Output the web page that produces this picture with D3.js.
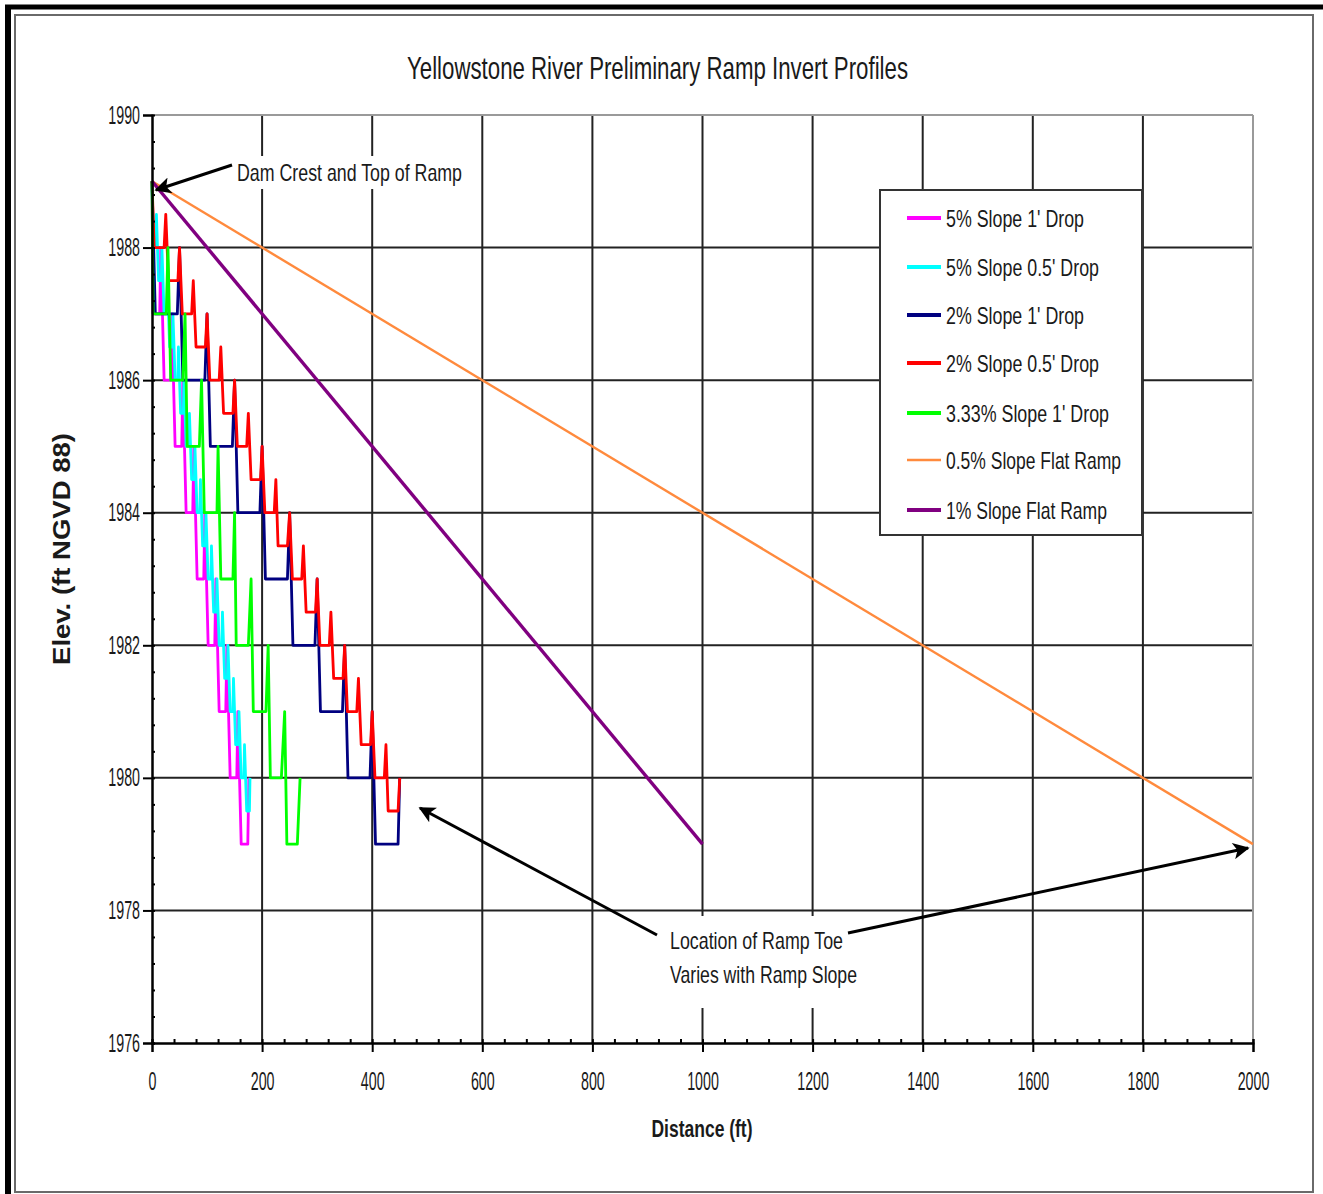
<!DOCTYPE html>
<html>
<head>
<meta charset="utf-8">
<script src="https://cdn.jsdelivr.net/npm/d3@7"></script>
<style>
  body { margin: 0; background: #fff; }
  text { font-family: "Liberation Sans", Arial, sans-serif; fill: #1a1a1a; }
</style>
</head>
<body>
<svg id="chart"></svg>
<script>
// profile points: [distance ft, elevation ft]
const slope5Drop1 = [
  [0, 1989], [2, 1987], [14, 1987], [16, 1988], [22, 1986], [34, 1986], [36, 1987],
  [42, 1985], [54, 1985], [56, 1986], [62, 1984], [74, 1984], [76, 1985],
  [82, 1983], [94, 1983], [96, 1984], [102, 1982], [114, 1982], [116, 1983],
  [122, 1981], [134, 1981], [136, 1982], [142, 1980], [154, 1980], [156, 1981],
  [162, 1979], [174, 1979], [176, 1980],
];
const slope5Drop05 = [
  [0, 1989], [2, 1988], [7, 1988], [8, 1988.5], [12, 1987.5], [17, 1987.5], [18, 1988],
  [22, 1987], [27, 1987], [28, 1987.5], [32, 1986.5], [37, 1986.5], [38, 1987],
  [42, 1986], [47, 1986], [48, 1986.5], [52, 1985.5], [57, 1985.5], [58, 1986],
  [62, 1985], [67, 1985], [68, 1985.5], [72, 1984.5], [77, 1984.5], [78, 1985],
  [82, 1984], [87, 1984], [88, 1984.5], [92, 1983.5], [97, 1983.5], [98, 1984],
  [102, 1983], [107, 1983], [108, 1983.5], [112, 1982.5], [117, 1982.5], [118, 1983],
  [122, 1982], [127, 1982], [128, 1982.5], [132, 1981.5], [137, 1981.5], [138, 1982],
  [142, 1981], [147, 1981], [148, 1981.5], [152, 1980.5], [157, 1980.5], [158, 1981],
  [162, 1980], [167, 1980], [168, 1980.5], [172, 1979.5], [177, 1979.5], [178, 1980],
];
const slope2Drop1 = [
  [0, 1989], [6, 1987], [46, 1987], [50, 1988], [56, 1986], [96, 1986], [100, 1987],
  [106, 1985], [146, 1985], [150, 1986], [156, 1984], [196, 1984], [200, 1985],
  [206, 1983], [246, 1983], [250, 1984], [256, 1982], [296, 1982], [300, 1983],
  [306, 1981], [346, 1981], [350, 1982], [356, 1980], [396, 1980], [400, 1981],
  [406, 1979], [447, 1979], [450, 1980],
];
const slope2Drop05 = [
  [0, 1989], [4, 1988], [22, 1988], [25, 1988.5], [30, 1987.5], [47, 1987.5], [50, 1988],
  [55, 1987], [72, 1987], [75, 1987.5], [80, 1986.5], [97, 1986.5], [100, 1987],
  [105, 1986], [122, 1986], [125, 1986.5], [130, 1985.5], [147, 1985.5], [150, 1986],
  [155, 1985], [172, 1985], [175, 1985.5], [180, 1984.5], [197, 1984.5], [200, 1985],
  [205, 1984], [222, 1984], [225, 1984.5], [229, 1983.5], [246, 1983.5], [250, 1984],
  [255, 1983], [272, 1983], [275, 1983.5], [280, 1982.5], [297, 1982.5], [300, 1983],
  [305, 1982], [322, 1982], [325, 1982.5], [330, 1981.5], [347, 1981.5], [350, 1982],
  [355, 1981], [372, 1981], [375, 1981.5], [380, 1980.5], [397, 1980.5], [400, 1981],
  [405, 1980], [422, 1980], [425, 1980.5], [429, 1979.5], [447, 1979.5], [450, 1980],
];
const slope333Drop1 = [
  [0, 1989], [2, 1987], [26, 1987], [29, 1988], [34, 1986], [56, 1986], [60, 1987],
  [64, 1985], [86, 1985], [90, 1986], [95, 1984], [118, 1984], [120, 1985],
  [125, 1983], [147, 1983], [150, 1984], [153, 1982], [175, 1982], [180, 1983],
  [184, 1981], [207, 1981], [211, 1982], [215, 1980], [235, 1980], [241, 1981],
  [245, 1979], [264, 1979], [269, 1980],
];
const slope05Flat = [[0, 1989], [2000, 1979]];
const slope1Flat = [[0, 1989], [1000, 1979]];

const seriesNames = [
  "5% Slope 1' Drop", "5% Slope 0.5' Drop", "2% Slope 1' Drop", "2% Slope 0.5' Drop",
  "3.33% Slope 1' Drop", "0.5% Slope Flat Ramp", "1% Slope Flat Ramp",
];
const seriesData = [slope5Drop1, slope5Drop05, slope2Drop1, slope2Drop05, slope333Drop1, slope05Flat, slope1Flat];
const seriesColors = ['#ff00ff', '#00ffff', '#000080', '#ff0000', '#00ff00', '#ff8a3d', '#800080'];
const seriesWidths = [2.8, 2.8, 2.8, 2.8, 2.8, 2.4, 3.4];

const xTicks = [0, 200, 400, 600, 800, 1000, 1200, 1400, 1600, 1800, 2000];
const yTicks = [1976, 1978, 1980, 1982, 1984, 1986, 1988, 1990];

const W = 1323, H = 1194;
const svg = d3.select('#chart').attr('width', W).attr('height', H);

const x = d3.scaleLinear().domain([0, 2000]).range([152, 1253]);
const y = d3.scaleLinear().domain([1976, 1990]).range([1043, 115]);

// squeeze text horizontally like the condensed original
function squash(sel, k) {
  sel.each(function () {
    const w = this.getComputedTextLength();
    d3.select(this).attr('textLength', w * k).attr('lengthAdjust', 'spacingAndGlyphs');
  });
}

// frame
svg.append('rect').attr('x', 15).attr('y', 15).attr('width', 1298).attr('height', 1177)
  .attr('fill', 'none').attr('stroke', '#6a6a6a').attr('stroke-width', 2);
svg.append('line').attr('x1', 8).attr('x2', 8).attr('y1', 5).attr('y2', H).attr('stroke', '#000').attr('stroke-width', 6);
svg.append('line').attr('x1', 5).attr('x2', W).attr('y1', 7).attr('y2', 7).attr('stroke', '#000').attr('stroke-width', 5);

// title
svg.append('text').attr('x', 407).attr('y', 79).attr('font-size', 32)
  .attr('textLength', 501).attr('lengthAdjust', 'spacingAndGlyphs')
  .text('Yellowstone River Preliminary Ramp Invert Profiles');

// grid
const grid = svg.append('g');
grid.selectAll('line.h').data(yTicks.filter((t) => t > 1976 && t < 1990)).join('line')
  .attr('x1', x(0)).attr('x2', x(2000)).attr('y1', (d) => y(d)).attr('y2', (d) => y(d))
  .attr('stroke', '#222').attr('stroke-width', 2);
grid.selectAll('line.v').data(xTicks.filter((t) => t > 0 && t < 2000)).join('line')
  .attr('x1', (d) => x(d)).attr('x2', (d) => x(d)).attr('y1', y(1990)).attr('y2', y(1976))
  .attr('stroke', '#222').attr('stroke-width', 2);
grid.append('line').attr('x1', x(0)).attr('x2', x(2000)).attr('y1', y(1990)).attr('y2', y(1990))
  .attr('stroke', '#9a9a9a').attr('stroke-width', 2);
grid.append('line').attr('x1', x(2000)).attr('x2', x(2000)).attr('y1', y(1990)).attr('y2', y(1976))
  .attr('stroke', '#9a9a9a').attr('stroke-width', 2);

// series
const line = d3.line().x((d) => x(d[0])).y((d) => y(d[1]));
svg.append('g').selectAll('path').data(seriesData).join('path')
  .attr('d', line).attr('fill', 'none')
  .attr('stroke', (d, i) => seriesColors[i])
  .attr('stroke-width', (d, i) => seriesWidths[i])
  .attr('stroke-linejoin', 'round');

// axes
const yAxis = svg.append('g').attr('transform', `translate(${x(0)},0)`)
  .call(d3.axisLeft(y).tickValues(yTicks).tickSize(9).tickPadding(4).tickFormat(d3.format('d')));
svg.append('g').attr('transform', `translate(${x(0)},0)`)
  .call(d3.axisRight(y).tickValues(d3.range(1976, 1990, 0.4)).tickSize(3).tickFormat(''));
const xAxis = svg.append('g').attr('transform', `translate(0,${y(1976)})`)
  .call(d3.axisBottom(x).tickValues(xTicks).tickSize(9).tickPadding(20).tickFormat(d3.format('d')));
svg.append('g').attr('transform', `translate(0,${y(1976)})`)
  .call(d3.axisTop(x).tickValues(d3.range(0, 2001, 40)).tickSize(4).tickFormat(''));
svg.selectAll('.domain').attr('stroke', '#000').attr('stroke-width', 2);
svg.selectAll('.tick line').attr('stroke', '#000').attr('stroke-width', 2);
svg.selectAll('.tick text').attr('font-size', 25).attr('font-family', '"Liberation Sans", Arial, sans-serif').attr('fill', '#1a1a1a');
yAxis.selectAll('.tick text').attr('x', -12);
squash(svg.selectAll('.tick text'), 0.57);

// axis titles
svg.append('text').attr('x', 702).attr('y', 1137).attr('text-anchor', 'middle')
  .attr('font-size', 24).attr('font-weight', 'bold')
  .attr('textLength', 101).attr('lengthAdjust', 'spacingAndGlyphs').text('Distance (ft)');
svg.append('text').attr('transform', 'translate(70,549) rotate(-90)').attr('text-anchor', 'middle')
  .attr('font-size', 24).attr('font-weight', 'bold')
  .attr('textLength', 232).attr('lengthAdjust', 'spacingAndGlyphs').text('Elev. (ft NGVD 88)');

// legend
const legendWidths = [138, 153, 138, 153, 163, 175, 161];
const legendRows = [218, 267, 315, 363, 413, 460, 510];
const legend = svg.append('g');
legend.append('rect').attr('x', 880).attr('y', 190).attr('width', 262).attr('height', 345)
  .attr('fill', '#fff').attr('stroke', '#333').attr('stroke-width', 2);
const items = legend.selectAll('g').data(seriesNames).join('g')
  .attr('transform', (d, i) => `translate(0,${legendRows[i]})`);
items.append('line').attr('x1', 907).attr('x2', 941).attr('y1', 0).attr('y2', 0)
  .attr('stroke', (d, i) => seriesColors[i]).attr('stroke-width', (d, i) => (i === 5 ? 2.5 : 4));
items.append('text').attr('x', 946).attr('dy', '0.36em').attr('font-size', 24)
  .attr('textLength', (d, i) => legendWidths[i]).attr('lengthAdjust', 'spacingAndGlyphs')
  .text((d) => d);

// annotations
const defs = svg.append('defs');
defs.append('marker').attr('id', 'arrow').attr('viewBox', '0 0 10 10')
  .attr('refX', 9).attr('refY', 5).attr('markerWidth', 6).attr('markerHeight', 5.5)
  .attr('markerUnits', 'strokeWidth').attr('orient', 'auto')
  .append('path').attr('d', 'M0,0 L10,5 L0,10 L2.5,5 Z').attr('fill', '#000');

const notes = svg.append('g');
notes.append('rect').attr('x', 232).attr('y', 156).attr('width', 234).attr('height', 33).attr('fill', '#fff');
notes.append('rect').attr('x', 662).attr('y', 916).attr('width', 200).attr('height', 92).attr('fill', '#fff');
notes.append('text').attr('x', 237).attr('y', 172).attr('dy', '0.36em').attr('font-size', 24)
  .attr('textLength', 225).attr('lengthAdjust', 'spacingAndGlyphs').text('Dam Crest and Top of Ramp');
notes.append('text').attr('x', 670).attr('y', 940).attr('dy', '0.36em').attr('font-size', 24)
  .attr('textLength', 173).attr('lengthAdjust', 'spacingAndGlyphs').text('Location of Ramp Toe');
notes.append('text').attr('x', 670).attr('y', 974).attr('dy', '0.36em').attr('font-size', 24)
  .attr('textLength', 187).attr('lengthAdjust', 'spacingAndGlyphs').text('Varies with Ramp Slope');

const arrows = [
  [232, 165, 156, 190],
  [657, 935, 420, 808],
  [848, 933, 1248, 848],
];
notes.selectAll('line.arrow').data(arrows).join('line')
  .attr('x1', (d) => d[0]).attr('y1', (d) => d[1]).attr('x2', (d) => d[2]).attr('y2', (d) => d[3])
  .attr('stroke', '#000').attr('stroke-width', 3).attr('marker-end', 'url(#arrow)');
</script>
</body>
</html>
